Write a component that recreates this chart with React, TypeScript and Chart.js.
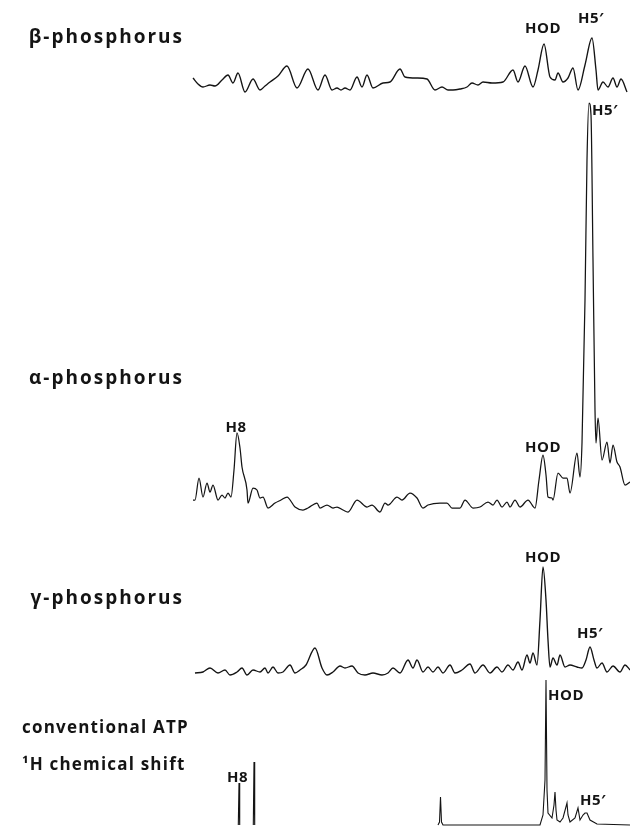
import React, { useEffect, useRef } from "react";
import { Chart, registerables } from "chart.js";

Chart.register(...registerables);

// ---- data (x = position along the shift axis, y = intensity above each trace's own baseline) ----
const betaX = [193, 198, 203, 210, 215, 222, 228, 233, 238, 245, 253, 260, 265, 270, 278, 287, 297, 308, 318, 325, 332, 337, 341, 345, 350, 357, 362, 367, 373, 383, 390, 400, 405, 417, 427, 435, 442, 448, 453, 460, 467, 472, 478, 483, 492, 503, 513, 518, 525, 533, 538, 544, 550, 555, 558, 563, 568, 573, 578, 585, 592, 596, 598, 603, 608, 613, 617, 621, 627];
const betaY = [7, 1, -2, 0, -1, 5, 10, 2, 12, -7, 6, -5, -1, 3, 9, 19, -3, 16, -5, 10, -5, -3, -5, -3, -5, 8, -2, 10, -3, 2, 3, 16, 8, 7, 6, -5, -2, -5, -5, -4, -2, 2, 0, 3, 2, 3, 15, 3, 19, -2, 15, 41, 8, 5, 12, 3, 7, 17, -5, 20, 47, 15, -5, 3, -2, 7, -2, 6, -7];

const alphaX = [193, 195, 199, 203, 207, 210, 213, 218, 222, 225, 228, 231, 234, 237, 240, 242, 247, 248, 253, 257, 260, 263, 268, 275, 281, 287, 295, 303, 308, 317, 320, 327, 333, 337, 343, 348, 357, 367, 372, 380, 385, 388, 397, 402, 410, 417, 423, 428, 440, 447, 452, 460, 465, 473, 480, 488, 493, 497, 502, 507, 510, 515, 520, 528, 535, 539, 543, 546, 548, 552, 553, 558, 563, 567, 570, 577, 580, 582, 585, 587, 589, 591, 593, 595, 596, 598, 602, 607, 610, 613, 617, 620, 625, 630];
const alphaY = [7, 7, 29, 10, 24, 15, 22, 7, 12, 9, 14, 10, 37, 74, 59, 40, 17, 4, 19, 17, 9, 10, -1, 4, 7, 10, 0, -3, -1, 4, -1, 2, -1, 0, -3, -5, 7, 0, 2, -5, 4, 2, 10, 7, 14, 9, -1, 2, 4, 4, -1, -1, 7, -1, 0, 5, 2, 7, 0, 5, 0, 7, 0, 7, -1, 27, 52, 32, 10, 9, 7, 34, 29, 29, 14, 54, 30, 64, 207, 347, 404, 392, 247, 97, 64, 89, 47, 65, 44, 62, 45, 40, 22, 25];

const gammaX = [195, 203, 210, 218, 225, 230, 237, 242, 247, 253, 260, 265, 268, 273, 278, 283, 290, 295, 300, 306, 315, 322, 327, 333, 340, 345, 352, 358, 365, 373, 382, 388, 393, 400, 408, 413, 417, 423, 428, 433, 438, 443, 450, 455, 462, 470, 475, 483, 490, 497, 502, 508, 513, 518, 522, 527, 530, 533, 537, 540, 543, 546, 548, 550, 553, 557, 560, 565, 570, 577, 582, 586, 590, 594, 597, 602, 607, 613, 620, 625, 630];
const gammaY = [-3, -2, 2, -3, 0, -5, -2, 2, -5, 0, -2, 2, -3, 3, -3, -2, 5, -3, 0, 5, 22, 2, -5, -2, 4, 2, 4, -3, -5, -3, -5, -3, 2, -3, 10, 2, 10, -2, 3, -2, 3, -3, 5, -3, 0, 6, -3, 5, -3, 3, -2, 5, 0, 8, 0, 15, 7, 17, 5, 50, 103, 70, 30, 3, 12, 5, 15, 3, 5, 3, 2, 10, 23, 10, 2, 7, -2, 4, -2, 5, 0];

const atpX = [238.3, 239, 239.7, 246, 253.3, 254, 254.7, 340, 438, 439.5, 440.5, 441.5, 443, 540, 543, 545, 546, 547, 548, 552, 554, 555, 556, 557, 560, 563, 567, 568, 570, 575, 578, 580, 583, 585, 587, 590, 597, 630];
const atpY = [0, 42, 0, null, 0, 63, 0, null, 0, 3, 28, 3, 0, 0, 10, 45, 145, 35, 12, 7, 20, 33, 15, 5, 3, 7, 22, 10, 3, 7, 17, 5, 10, 12, 12, 5, 1, 0];

// peak labels: [text, x, y (intensity where the text baseline sits), align]
const betaLabels = [["HOD", 543, 52, "center"], ["H5\u2032", 591, 62, "center"]];
const alphaLabels = [["H8", 236, 75, "center"], ["HOD", 543, 55, "center"], ["H5\u2032", 592, 392, "left"]];
const gammaLabels = [["HOD", 543, 108, "center"], ["H5\u2032", 590, 32, "center"]];
const atpLabels = [["H8", 237.5, 43, "center"], ["HOD", 548, 125, "left"], ["H5\u2032", 593, 20, "center"]];

const traceNames = ["\u03b2-phosphorus", "\u03b1-phosphorus", "\u03b3-phosphorus"];
const atpNames = ["conventional ATP", "\u00b9H chemical shift"];

// ---- layout ----
const W = 630;
const H = 826;
const BASE = { beta: 85, alpha: 507, gamma: 670, atp: 825 };
const INK = "#141414";
const LABEL_FONT = "bold 15px 'Open Sans', sans-serif";

function pts(xs: number[], ys: (number | null)[]) {
  return xs.map((x, i) => ({ x, y: ys[i] }));
}

function yAxis(base: number) {
  return { type: "linear" as const, display: false, min: base - H, max: base };
}

const peakLabelPlugin = {
  id: "peakLabels",
  afterDatasetsDraw(chart: any) {
    const ctx = chart.ctx as CanvasRenderingContext2D;
    const groups: [string, any[]][] = [
      ["yb", betaLabels],
      ["ya", alphaLabels],
      ["yg", gammaLabels],
      ["yc", atpLabels],
    ];
    ctx.save();
    ctx.font = LABEL_FONT;
    ctx.fillStyle = INK;
    ctx.textBaseline = "alphabetic";
    try {
      (ctx as any).letterSpacing = "0.5px";
    } catch (e) {}
    for (const [axis, list] of groups) {
      const ys = chart.scales[axis];
      for (const [text, x, y, align] of list) {
        ctx.textAlign = align;
        ctx.fillText(text, chart.scales.x.getPixelForValue(x), ys.getPixelForValue(y));
      }
    }
    ctx.restore();
  },
};

export default function App() {
  const ref = useRef<HTMLCanvasElement | null>(null);

  useEffect(() => {
    if (!ref.current) return;
    const ds = (data: any[], axis: string, tension: number, width: number) => ({
      data,
      yAxisID: axis,
      borderColor: INK,
      borderWidth: width,
      pointRadius: 0,
      fill: false,
      tension,
      cubicInterpolationMode: tension > 0 ? ("monotone" as const) : ("default" as const),
      spanGaps: false,
    });
    const chart = new Chart(ref.current, {
      type: "line",
      data: {
        datasets: [
          ds(pts(betaX, betaY), "yb", 0.4, 1.35),
          ds(pts(alphaX, alphaY), "ya", 0.4, 1.25),
          ds(pts(gammaX, gammaY), "yg", 0.4, 1.35),
          ds(pts(atpX, atpY), "yc", 0, 1.1),
        ],
      },
      options: {
        animation: false,
        responsive: false,
        maintainAspectRatio: false,
        parsing: false as any,
        normalized: true,
        layout: { padding: 0 },
        events: [],
        plugins: { legend: { display: false }, tooltip: { enabled: false } },
        scales: {
          x: { type: "linear", display: false, min: 0, max: W },
          yb: yAxis(BASE.beta),
          ya: yAxis(BASE.alpha),
          yg: yAxis(BASE.gamma),
          yc: yAxis(BASE.atp),
        },
      },
      plugins: [peakLabelPlugin],
    });
    return () => chart.destroy();
  }, []);

  const nameStyle: React.CSSProperties = {
    position: "absolute",
    right: W - 184,
    fontFamily: "'Open Sans', sans-serif",
    fontWeight: 700,
    fontSize: 19,
    letterSpacing: 2,
    color: INK,
    whiteSpace: "nowrap",
    lineHeight: "22px",
  };
  const leftStyle: React.CSSProperties = {
    ...nameStyle,
    right: undefined,
    left: 22,
    fontSize: 17,
    letterSpacing: 1.2,
    lineHeight: "20px",
  };

  return (
    <div style={{ position: "fixed", left: 0, top: 0, width: W, height: H, background: "#fff", overflow: "hidden" }}>
      <canvas ref={ref} width={W} height={H} style={{ position: "absolute", left: 0, top: 0, width: W, height: H }} />
      <div style={{ ...nameStyle, top: 25 }}>{traceNames[0]}</div>
      <div style={{ ...nameStyle, top: 366 }}>{traceNames[1]}</div>
      <div style={{ ...nameStyle, top: 586 }}>{traceNames[2]}</div>
      <div style={{ ...leftStyle, top: 717 }}>{atpNames[0]}</div>
      <div style={{ ...leftStyle, top: 754 }}>{atpNames[1]}</div>
    </div>
  );
}
